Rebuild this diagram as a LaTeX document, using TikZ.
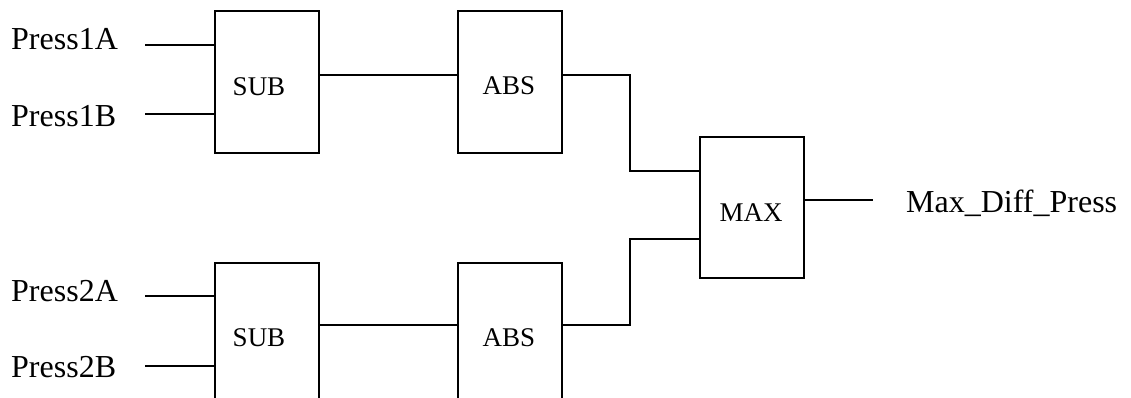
\documentclass[tikz,border=0pt]{standalone}
\usepackage{fontspec}
\setmainfont{Liberation Serif}
\begin{document}
\begin{tikzpicture}[x=1pt,y=-1pt,
  wire/.style={line width=2.2pt},
  blk/.style={draw,line width=2.2pt,rectangle,minimum width=104pt,minimum height=142pt,inner sep=0pt,anchor=north west},
  blklabel/.style={font=\fontsize{27}{27}\selectfont,inner sep=0pt},
  sig/.style={font=\fontsize{32}{32}\selectfont,inner sep=0pt,anchor=base west}]
\useasboundingbox (0,0) rectangle (1131,398);
\clip (0,0) rectangle (1131,398);
% blocks
\node[blk] (sub1) at (214,10) {};
\node[blk] (abs1) at (457,10) {};
\node[blk] (sub2) at (214,262) {};
\node[blk] (abs2) at (457,262) {};
\node[blk,minimum height=141pt] (max) at (699,136) {};
\node[blklabel] (tsub1) at (259,87) {SUB};
\node[blklabel] (tabs1) at (509,86) {ABS};
\node[blklabel] (tsub2) at (259,338) {SUB};
\node[blklabel] (tabs2) at (509,338) {ABS};
\node[blklabel] (tmax) at (751,213) {MAX};
% signal labels
\node[sig] (p1a) at (11,50) {Press1A};
\node[sig] (p1b) at (11,127) {Press1B};
\node[sig] (p2a) at (11,301) {Press2A};
\node[sig] (p2b) at (11,377) {Press2B};
\node[sig] (out) at (906,212) {Max\_Diff\_Press};
% input stubs
\coordinate (i1a) at (145,45);
\coordinate (i1b) at (145,114);
\coordinate (i2a) at (145,296);
\coordinate (i2b) at (145,366);
\coordinate (o) at (873,200);
\draw[wire] (i1a) -- (i1a -| sub1.west);
\draw[wire] (i1b) -- (i1b -| sub1.west);
\draw[wire] (i2a) -- (i2a -| sub2.west);
\draw[wire] (i2b) -- (i2b -| sub2.west);
% connections
\draw[wire] (sub1.east |- 0,75) -- (abs1.west |- 0,75);
\draw[wire] (sub2.east |- 0,325) -- (abs2.west |- 0,325);
\draw[wire] (abs1.east |- 0,75) -- (630,75) -- (630,171) -- (max.west |- 0,171);
\draw[wire] (abs2.east |- 0,325) -- (630,325) -- (630,239) -- (max.west |- 0,239);
\draw[wire] (max.east |- o) -- (o);
\end{tikzpicture}
\end{document}
